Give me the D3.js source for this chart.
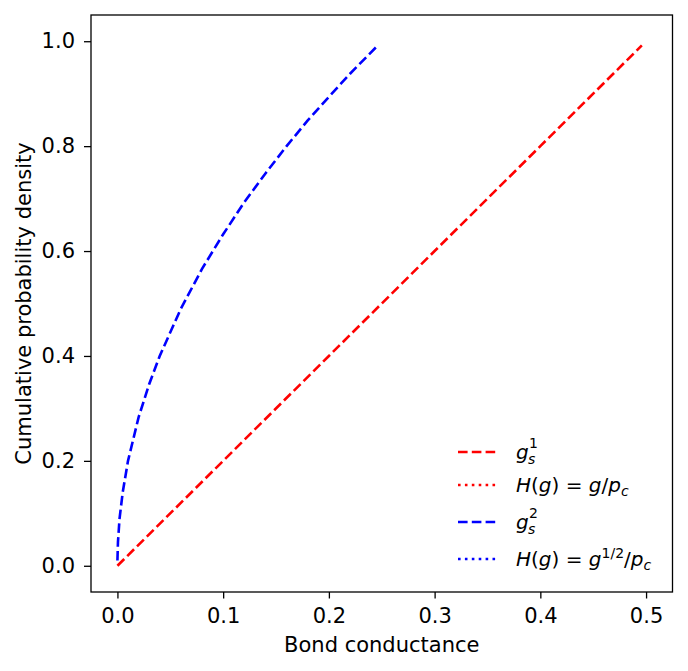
<!DOCTYPE html>
<html><head><meta charset="utf-8">
<script src="https://cdn.jsdelivr.net/npm/d3@7"></script>
<style>body{margin:0;background:#fff}text{font-family:"DejaVu Sans",sans-serif}</style>
</head><body><svg id="c" width="688" height="671"></svg>
<script>
// Data
const redG = [0, 0.1, 0.2, 0.3, 0.4, 0.496];
const redH = [0, 0.2, 0.4, 0.6, 0.8, 0.992];
const blueG = [0, 0.0005, 0.002, 0.005, 0.01, 0.02, 0.03, 0.04, 0.06, 0.08, 0.10, 0.12, 0.14, 0.16, 0.18, 0.20, 0.22, 0.2468];
const blueH = [0.01, 0.045, 0.09, 0.14, 0.2, 0.283, 0.346, 0.4, 0.49, 0.566, 0.632, 0.693, 0.748, 0.8, 0.849, 0.894, 0.938, 0.993];
const xTicks = [0.0, 0.1, 0.2, 0.3, 0.4, 0.5];
const yTicks = [0.0, 0.2, 0.4, 0.6, 0.8, 1.0];
const xLabel = "Bond conductance";
const yLabel = "Cumulative probability density";

const svg = d3.select("#c");
const L = 91, R = 672.5, T = 15, B = 592;
const x = d3.scaleLinear().domain([-0.025, 0.525]).range([L, R]);
const y = d3.scaleLinear().domain([-0.05, 1.05]).range([B, T]);
const fs = 21, lfs = 20;

const line = d3.line().x(d => x(d[0])).y(d => y(d[1]));
const redData = redG.map((g, i) => [g, redH[i]]);
const blueData = blueG.map((g, i) => [g, blueH[i]]);
const lw = 2.6;
const dash = "9.6,4.2";
const dot = "2.6,4.3";

svg.append("defs").append("clipPath").attr("id", "pc")
  .append("rect").attr("x", L).attr("y", T).attr("width", R - L).attr("height", B - T);
const g = svg.append("g").attr("clip-path", "url(#pc)");
g.append("path").datum(redData).attr("d", line).attr("fill", "none")
  .attr("stroke", "#ff0000").attr("stroke-width", lw).attr("stroke-dasharray", dash);
g.append("path").datum(blueData).attr("d", line).attr("fill", "none")
  .attr("stroke", "#0000ff").attr("stroke-width", lw).attr("stroke-dasharray", dash);

// axes
const xa = svg.append("g").attr("transform", `translate(0,${B})`)
  .call(d3.axisBottom(x).tickValues(xTicks).tickFormat(d3.format(".1f")).tickSize(6.5).tickPadding(10));
const ya = svg.append("g").attr("transform", `translate(${L},0)`)
  .call(d3.axisLeft(y).tickValues(yTicks).tickFormat(d3.format(".1f")).tickSize(7).tickPadding(9));
[xa, ya].forEach(a => {
  a.attr("font-size", fs).attr("font-family", "DejaVu Sans");
  a.select(".domain").remove();
  a.selectAll(".tick line").attr("stroke", "#000").attr("stroke-width", 1.3);
  a.selectAll(".tick text").attr("font-size", fs).attr("fill", "#000");
});
svg.append("rect").attr("x", L).attr("y", T).attr("width", R - L).attr("height", B - T)
  .attr("fill", "none").attr("stroke", "#000").attr("stroke-width", 1.3);

svg.append("text").attr("x", (L + R) / 2).attr("y", 652).attr("text-anchor", "middle")
  .attr("font-size", fs).text(xLabel);
svg.append("text").attr("transform", `translate(31,${(T + B) / 2}) rotate(-90)`)
  .attr("text-anchor", "middle").attr("font-size", fs).text(yLabel);

// legend
const leg = svg.append("g");
const rows = [
  {c: "#ff0000", d: dash, y: 452, t: "gs1"},
  {c: "#ff0000", d: dot, y: 485, t: "Hlin"},
  {c: "#0000ff", d: dash, y: 522, t: "gs2"},
  {c: "#0000ff", d: dot, y: 559, t: "Hsq"}
];
rows.forEach(r => {
  leg.append("line").attr("x1", 458).attr("x2", 499).attr("y1", r.y).attr("y2", r.y)
    .attr("stroke", r.c).attr("stroke-width", lw).attr("stroke-dasharray", r.d);
  const bx = 516, by = r.y + 7;
  if (r.t === "gs1" || r.t === "gs2") {
    leg.append("text").attr("x", bx).attr("y", by).attr("font-size", lfs).attr("font-style", "italic").text("g");
    leg.append("text").attr("x", bx + 12).attr("y", by + 5).attr("font-size", lfs * 0.7).attr("font-style", "italic").text("s");
    leg.append("text").attr("x", bx + 13).attr("y", by - 11).attr("font-size", lfs * 0.7).text(r.t === "gs1" ? "1" : "2");
  } else {
    const t = leg.append("text").attr("x", bx).attr("y", by).attr("font-size", lfs);
    const it = (s) => t.append("tspan").attr("font-style", "italic").text(s);
    const rm = (s) => t.append("tspan").text(s);
    it("H"); rm("("); it("g"); rm(") = "); it("g");
    if (r.t === "Hsq") {
      t.append("tspan").attr("font-size", lfs * 0.7).attr("dy", -8).text("1/2");
      t.append("tspan").attr("dy", 8).text("/");
    } else rm("/");
    it("p");
    t.append("tspan").attr("font-style", "italic").attr("font-size", lfs * 0.7).attr("dy", 4).text("c");
  }
});
</script></body></html>
